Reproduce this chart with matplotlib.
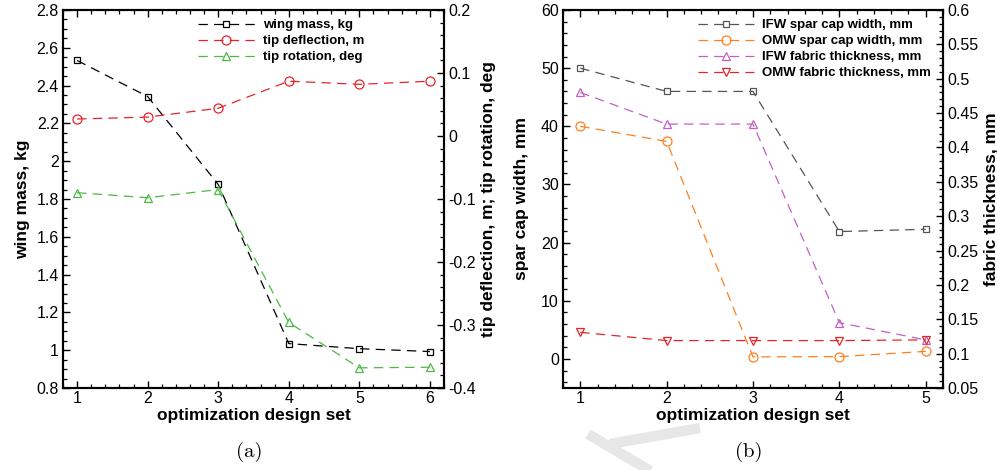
import matplotlib
matplotlib.use("Agg")
import matplotlib.pyplot as plt
from matplotlib.ticker import MultipleLocator
from matplotlib.lines import Line2D

# ---------------- data ----------------
design_set_a = [1, 2, 3, 4, 5, 6]
wing_mass = [2.533, 2.342, 1.877, 1.035, 1.008, 0.993]
tip_deflection = [0.027, 0.030, 0.044, 0.087, 0.082, 0.087]
tip_rotation = [-0.090, -0.098, -0.085, -0.296, -0.368, -0.367]

design_set_b = [1, 2, 3, 4, 5]
ifw_spar_cap = [50.0, 46.0, 46.0, 21.9, 22.3]
omw_spar_cap = [40.0, 37.4, 0.35, 0.4, 1.3]
ifw_fabric = [0.480, 0.434, 0.434, 0.145, 0.120]
omw_fabric = [0.131, 0.119, 0.119, 0.119, 0.120]

labels_a = ["wing mass, kg", "tip deflection, m", "tip rotation, deg"]
labels_b = ["IFW spar cap width, mm", "OMW spar cap width, mm",
            "IFW fabric thickness, mm", "OMW fabric thickness, mm"]

# ---------------- style ----------------
SANS = ["Liberation Sans", "DejaVu Sans"]
plt.rcParams["font.family"] = SANS
plt.rcParams["axes.linewidth"] = 1.5
TICK_FS = 11.5
LABEL_FS = 12.5
LEG_FS = 9.5

C_BLACK = "#000000"
C_RED = "#e3242b"
C_GREEN = "#4cb944"
C_GRAY = "#555555"
C_ORANGE = "#ff7f1e"
C_PURPLE = "#c45ec4"

DASH = (7.5, 5)
LW = 0.9

W, H = 997, 470
fig = plt.figure(figsize=(W / 100, H / 100), dpi=100)


def frac(x0, y0, x1, y1):
    return [x0 / W, 1 - y1 / H, (x1 - x0) / W, (y1 - y0) / H]


def style_axis(ax, side):
    ax.tick_params(axis="both", which="both", direction="in", labelsize=TICK_FS)
    ax.tick_params(which="major", length=5, width=1.0)
    ax.tick_params(which="minor", length=3, width=0.9)
    if side == "left":
        ax.tick_params(axis="y", which="both", left=True, right=False)
        ax.tick_params(axis="x", which="both", top=True, bottom=True)
    ax.tick_params(axis="x", pad=2)
    ax.tick_params(axis="y", pad=3)


def plot_line(ax, x, y, color, marker, ms):
    ln, = ax.plot(x, y, color=color, lw=LW, marker=marker, ms=ms,
                  mfc="none", mec=color, mew=0.9, dashes=DASH)
    return ln


def fmt(v, p):
    return f"{round(v, 3):g}"


# ---------------- panel (a) ----------------
axa = fig.add_axes(frac(63, 10, 444, 388))
axa2 = axa.twinx()
h1 = plot_line(axa, design_set_a, wing_mass, C_BLACK, "s", 4.5)
h2 = plot_line(axa2, design_set_a, tip_deflection, C_RED, "o", 6.5)
h3 = plot_line(axa2, design_set_a, tip_rotation, C_GREEN, "^", 6)

axa.set_xlim(0.8, 6.2)
axa.set_ylim(0.8, 2.8)
axa2.set_ylim(-0.4, 0.2)
axa.xaxis.set_major_locator(MultipleLocator(1))
axa.xaxis.set_minor_locator(MultipleLocator(0.2))
axa.yaxis.set_major_locator(MultipleLocator(0.2))
axa.yaxis.set_minor_locator(MultipleLocator(0.05))
axa2.yaxis.set_major_locator(MultipleLocator(0.1))
axa2.yaxis.set_minor_locator(MultipleLocator(0.02))
axa.yaxis.set_major_formatter(plt.FuncFormatter(fmt))
axa2.yaxis.set_major_formatter(plt.FuncFormatter(fmt))
style_axis(axa, "left")
style_axis(axa2, "right")
axa2.tick_params(axis="y", which="both", direction="in", right=True, left=False)

axa.set_xlabel("optimization design set", fontsize=LABEL_FS, fontweight="bold")
axa.xaxis.set_label_coords(0.5, -0.053)
axa.xaxis.label.set_va("top")
axa.set_ylabel("wing mass, kg", fontsize=LABEL_FS, fontweight="bold")
axa.yaxis.set_label_coords(-0.106, 0.5)
axa.yaxis.label.set_va("center")
axa2.set_ylabel("tip deflection, m; tip rotation, deg", fontsize=LABEL_FS,
                fontweight="bold", rotation=90)
axa2.yaxis.set_label_coords(1.118, 0.5)
axa2.yaxis.label.set_va("center")

axa2.legend([h1, h2, h3], labels_a, loc="upper left",
            bbox_to_anchor=(0.33, 1.0), frameon=False,
            prop={"family": SANS, "weight": "bold", "size": LEG_FS},
            handlelength=4.3, handletextpad=0.6, labelspacing=0.28,
            borderaxespad=0.3, numpoints=1)

# ---------------- panel (b) ----------------
axb = fig.add_axes(frac(563, 10, 943, 388))
axb2 = axb.twinx()
g1 = plot_line(axb, design_set_b, ifw_spar_cap, C_GRAY, "s", 4.5)
g2 = plot_line(axb, design_set_b, omw_spar_cap, C_ORANGE, "o", 6.5)
g3 = plot_line(axb2, design_set_b, ifw_fabric, C_PURPLE, "^", 6)
g4 = plot_line(axb2, design_set_b, omw_fabric, C_RED, "v", 6)

axb.set_xlim(0.8, 5.2)
axb.set_ylim(-5, 60)
axb2.set_ylim(0.05, 0.6)
axb.xaxis.set_major_locator(MultipleLocator(1))
axb.xaxis.set_minor_locator(MultipleLocator(0.2))
axb.yaxis.set_major_locator(MultipleLocator(10))
axb.yaxis.set_minor_locator(MultipleLocator(2))
axb2.yaxis.set_major_locator(MultipleLocator(0.05))
axb2.yaxis.set_minor_locator(MultipleLocator(0.01))
axb.yaxis.set_major_formatter(plt.FuncFormatter(fmt))
axb2.yaxis.set_major_formatter(plt.FuncFormatter(fmt))
style_axis(axb, "left")
style_axis(axb2, "right")
axb2.tick_params(axis="y", which="both", direction="in", right=True, left=False)

axb.set_xlabel("optimization design set", fontsize=LABEL_FS, fontweight="bold")
axb.xaxis.set_label_coords(0.5, -0.053)
axb.xaxis.label.set_va("top")
axb.set_ylabel("spar cap width, mm", fontsize=LABEL_FS, fontweight="bold")
axb.yaxis.set_label_coords(-0.11, 0.5)
axb.yaxis.label.set_va("center")
axb2.set_ylabel("fabric thickness, mm", fontsize=LABEL_FS, fontweight="bold",
                rotation=90)
axb2.yaxis.set_label_coords(1.126, 0.5)
axb2.yaxis.label.set_va("center")

axb2.legend([g1, g2, g3, g4], labels_b, loc="upper left",
            bbox_to_anchor=(0.33, 1.0), frameon=False,
            prop={"family": SANS, "weight": "bold", "size": LEG_FS},
            handlelength=4.3, handletextpad=0.6, labelspacing=0.28,
            borderaxespad=0.3, numpoints=1)

# ---------------- watermark ----------------
wm = "#e7e7e7"
fig.add_artist(Line2D([588 / W, 652 / W], [1 - 434 / H, 1 - 472 / H],
                      color=wm, lw=7.5, solid_capstyle="butt", zorder=-5))
fig.add_artist(Line2D([610 / W, 700 / W], [1 - 444 / H, 1 - 428 / H],
                      color=wm, lw=7.5, solid_capstyle="butt", zorder=-5))

# ---------------- captions ----------------
SERIF = ["cmr10", "DejaVu Serif"]
fig.text(249 / W, 1 - 452 / H, "(a)", ha="center", va="center",
         fontsize=15, family=SERIF)
fig.text(749 / W, 1 - 452 / H, "(b)", ha="center", va="center",
         fontsize=15, family=SERIF)

fig.savefig("out.png", dpi=100)
